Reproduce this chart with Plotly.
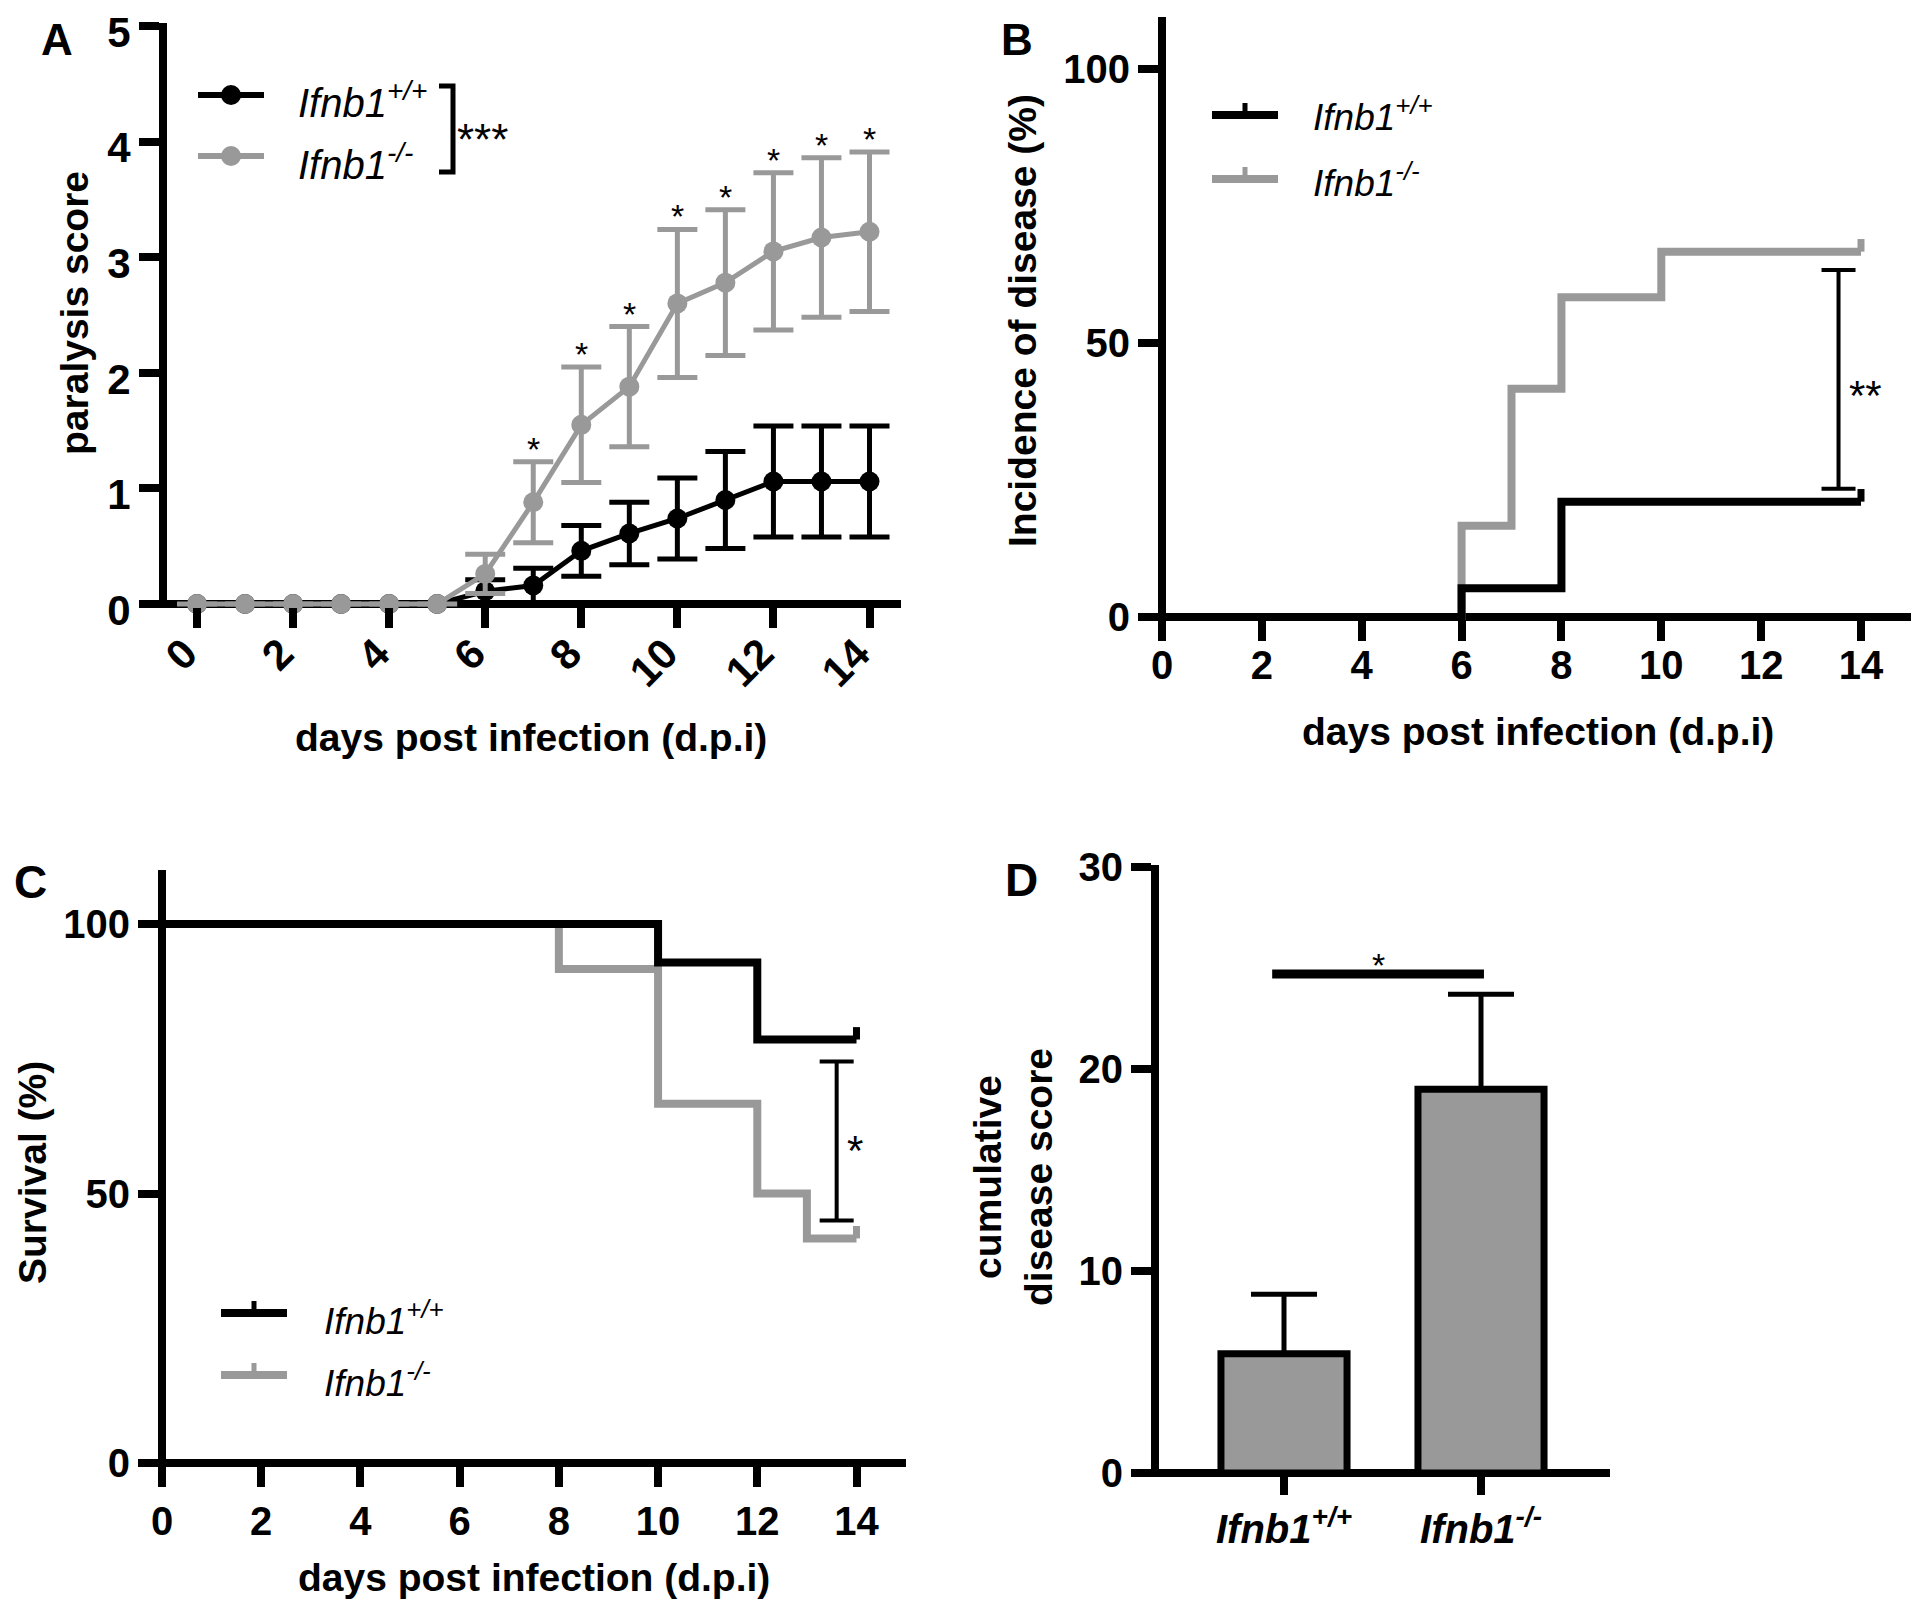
import plotly.graph_objects as go

# Target page is 1920x1612; the browser body has an 8px margin, so the figure is
# made 16px smaller and every pixel position below is given in page coordinates.
PAGE_W, PAGE_H = 1920, 1612
OFF = 8
W, H = PAGE_W - 2 * OFF, PAGE_H - 2 * OFF
FONT = "Liberation Sans, Arial, Helvetica, sans-serif"
BLACK = "#000000"
GRAY = "#999999"

# ---------------- data ----------------
# Panel A: paralysis score (mean, SEM)
days = list(range(15))
wt_score = [0, 0, 0, 0, 0, 0, 0.11, 0.16, 0.46, 0.61, 0.74, 0.90, 1.06, 1.06, 1.06]
wt_sem = [None, None, None, None, None, None, 0.10, 0.15, 0.22, 0.27, 0.35, 0.42, 0.48, 0.48, 0.48]
ko_score = [0, 0, 0, 0, 0, 0, 0.26, 0.88, 1.55, 1.88, 2.60, 2.78, 3.05, 3.17, 3.22]
ko_sem = [None, None, None, None, None, None, 0.17, 0.35, 0.50, 0.52, 0.64, 0.63, 0.68, 0.69, 0.69]
sig_days_A = [7, 8, 9, 10, 11, 12, 13, 14]

# Panel B: incidence of disease (%)
inc_wt_days = [0, 6, 8, 14]
inc_wt = [0, 5.26, 21.05, 21.05]
inc_ko_days = [0, 6, 7, 8, 10, 14]
inc_ko = [0, 16.67, 41.67, 58.33, 66.67, 66.67]
inc_sig_day = 13.55
inc_sig_range = [23.4, 63.3]

# Panel C: survival (%)
surv_wt_days = [0, 10, 12, 14]
surv_wt = [100, 92.86, 78.57, 78.57]
surv_ko_days = [0, 8, 10, 12, 13, 14]
surv_ko = [100, 91.67, 66.67, 50, 41.67, 41.67]
surv_sig_day = 13.6
surv_sig_range = [45.0, 74.5]

# Panel D: cumulative disease score
groups = ["Ifnb1<sup>+/+</sup>", "Ifnb1<sup>-/-</sup>"]
cum_score = [5.9, 19.0]
cum_sem = [2.95, 4.7]
cum_sig_y = 24.7
cum_sig_span = [-0.06, 1.015]

legend_names = ["Ifnb1<sup>+/+</sup>", "Ifnb1<sup>-/-</sup>"]

# ---------------- geometry helpers ----------------
def fx(p):
    return (p - OFF) / W


def fy(p):
    return 1 - (p - OFF) / H


def lin(p, a, b):
    (pa, va), (pb, vb) = a, b
    return va + (p - pa) * (vb - va) / (pb - pa)


PAD = 3
PANELS = {
    "A": dict(ax="", l=163, r=901, b=604, t=23, cx=((197, 0), (869.5, 14)), cy=((604, 0), (26, 5))),
    "B": dict(ax="2", l=1162, r=1911, b=617, t=17, cx=((1162, 0), (1861, 14)), cy=((617, 0), (69, 100))),
    "C": dict(ax="3", l=162, r=906, b=1463, t=870, cx=((162, 0), (856.5, 14)), cy=((1463, 0), (924, 100))),
    "D": dict(ax="4", l=1155, r=1610, b=1473, t=865, cx=((1284, 0), (1481, 1)), cy=((1473, 0), (867, 30))),
}

fig = go.Figure()
layout = dict(
    width=W, height=H, margin=dict(l=0, r=0, t=0, b=0, autoexpand=False),
    paper_bgcolor="white", plot_bgcolor="rgba(0,0,0,0)",
    showlegend=False, font=dict(family=FONT, color=BLACK),
)
shapes = []
annotations = []

axis_common = dict(showline=False, showgrid=False, zeroline=False, ticks="outside",
                   ticklen=20, tickwidth=8, tickcolor=BLACK, fixedrange=True, automargin=False,
                   ticklabeloverflow="allow")

for key, p in PANELS.items():
    dl, dr, db, dt = p["l"] - PAD, p["r"], p["b"] + PAD, p["t"]
    xr = [lin(dl, *p["cx"]), lin(dr, *p["cx"])]
    yr = [lin(db, *p["cy"]), lin(dt, *p["cy"])]
    layout["xaxis" + p["ax"]] = dict(axis_common, domain=[fx(dl), fx(dr)], range=xr,
                                     anchor="y" + p["ax"])
    layout["yaxis" + p["ax"]] = dict(axis_common, domain=[fy(db), fy(dt)], range=yr,
                                     anchor="x" + p["ax"])
    # axis lines (drawn beneath the data, as in the original)
    shapes.append(dict(type="line", xref="paper", yref="paper", layer="below",
                       x0=fx(p["l"] - 4), x1=fx(p["r"]), y0=fy(p["b"]), y1=fy(p["b"]),
                       line=dict(color=BLACK, width=8)))
    shapes.append(dict(type="line", xref="paper", yref="paper", layer="below",
                       x0=fx(p["l"]), x1=fx(p["l"]), y0=fy(p["b"] + 4), y1=fy(p["t"]),
                       line=dict(color=BLACK, width=8)))

tick_font = dict(family=FONT, size=40, color=BLACK, weight="bold")

# ---- Panel A axes ----
layout["xaxis"].update(tickmode="linear", tick0=0, dtick=2, tickangle=-45,
                       tickfont=dict(tick_font, size=42), ticklabelstandoff=-16,
                       ticklabelshift=-12)
layout["yaxis"].update(tickmode="linear", tick0=0, dtick=1, tickfont=dict(tick_font, size=42),
                       ticklabelshift=6)
# ---- Panel B axes ----
layout["xaxis2"].update(tickmode="linear", tick0=0, dtick=2, tickfont=tick_font,
                        ticklabelstandoff=-10)
layout["yaxis2"].update(tickvals=[0, 50, 100], tickfont=tick_font)
# ---- Panel C axes ----
layout["xaxis3"].update(tickmode="linear", tick0=0, dtick=2, tickfont=tick_font)
layout["yaxis3"].update(tickvals=[0, 50, 100], tickfont=tick_font)
# ---- Panel D axes ----
layout["xaxis4"].update(tickvals=[0, 1], ticktext=groups, ticklen=18,
                        tickfont=dict(tick_font, style="italic"))
layout["yaxis4"].update(tickvals=[0, 10, 20, 30], tickfont=tick_font)

# ---------------- Panel A traces ----------------
fig.add_trace(go.Scatter(
    x=days, y=wt_score, mode="lines+markers", xaxis="x", yaxis="y", cliponaxis=False,
    line=dict(color=BLACK, width=5), marker=dict(size=20, color=BLACK),
    error_y=dict(type="data", array=wt_sem, color=BLACK, thickness=5, width=20)))
fig.add_trace(go.Scatter(
    x=days, y=ko_score, mode="lines+markers", xaxis="x", yaxis="y", cliponaxis=False,
    line=dict(color=GRAY, width=5), marker=dict(size=20, color=GRAY),
    error_y=dict(type="data", array=ko_sem, color=GRAY, thickness=5, width=20)))
for d in sig_days_A:
    annotations.append(dict(x=d, y=ko_score[d] + ko_sem[d], xref="x", yref="y", text="*",
                            showarrow=False, yanchor="bottom", yshift=-8,
                            font=dict(family=FONT, size=34, color=BLACK)))

# ---------------- Panel B traces ----------------
for xs, ys, col in [(inc_ko_days, inc_ko, GRAY), (inc_wt_days, inc_wt, BLACK)]:
    fig.add_trace(go.Scatter(x=xs, y=ys, mode="lines", line_shape="hv", xaxis="x2", yaxis="y2",
                             line=dict(color=col, width=8)))
    fig.add_trace(go.Scatter(x=xs[-1:], y=ys[-1:], mode="markers", xaxis="x2", yaxis="y2",
                             marker=dict(size=1, opacity=0), cliponaxis=False,
                             error_y=dict(type="data", symmetric=False, array=[2.3], arrayminus=[0],
                                          width=0, thickness=7, color=col)))
fig.add_trace(go.Scatter(
    x=[inc_sig_day], y=[sum(inc_sig_range) / 2], mode="markers", xaxis="x2", yaxis="y2",
    marker=dict(size=1, opacity=0),
    error_y=dict(type="data", array=[(inc_sig_range[1] - inc_sig_range[0]) / 2],
                 color=BLACK, thickness=4, width=17)))
annotations.append(dict(x=inc_sig_day, y=sum(inc_sig_range) / 2, xref="x2", yref="y2", text="**",
                        showarrow=False, xanchor="left", xshift=8, yshift=-16,
                        font=dict(family=FONT, size=42, color=BLACK)))

# ---------------- Panel C traces ----------------
for xs, ys, col in [(surv_ko_days, surv_ko, GRAY), (surv_wt_days, surv_wt, BLACK)]:
    fig.add_trace(go.Scatter(x=xs, y=ys, mode="lines", line_shape="hv", xaxis="x3", yaxis="y3",
                             line=dict(color=col, width=8)))
    fig.add_trace(go.Scatter(x=xs[-1:], y=ys[-1:], mode="markers", xaxis="x3", yaxis="y3",
                             marker=dict(size=1, opacity=0), cliponaxis=False,
                             error_y=dict(type="data", symmetric=False, array=[2.3], arrayminus=[0],
                                          width=0, thickness=7, color=col)))
fig.add_trace(go.Scatter(
    x=[surv_sig_day], y=[sum(surv_sig_range) / 2], mode="markers", xaxis="x3", yaxis="y3",
    marker=dict(size=1, opacity=0),
    error_y=dict(type="data", array=[(surv_sig_range[1] - surv_sig_range[0]) / 2],
                 color=BLACK, thickness=4, width=17)))
annotations.append(dict(x=surv_sig_day, y=sum(surv_sig_range) / 2, xref="x3", yref="y3", text="*",
                        showarrow=False, xanchor="left", xshift=8, yshift=-10,
                        font=dict(family=FONT, size=42, color=BLACK)))

# ---------------- Panel D traces ----------------
fig.add_trace(go.Bar(
    x=[0, 1], y=cum_score, width=0.64, xaxis="x4", yaxis="y4",
    marker=dict(color=GRAY, line=dict(color=BLACK, width=7)),
    error_y=dict(type="data", symmetric=False, array=cum_sem, arrayminus=[0, 0],
                 color=BLACK, thickness=5, width=33)))
fig.add_trace(go.Scatter(x=cum_sig_span, y=[cum_sig_y, cum_sig_y], mode="lines",
                         xaxis="x4", yaxis="y4", line=dict(color=BLACK, width=9)))
annotations.append(dict(x=sum(cum_sig_span) / 2, y=cum_sig_y, xref="x4", yref="y4", text="*",
                        showarrow=False, yanchor="bottom", yshift=-12,
                        font=dict(family=FONT, size=34, color=BLACK)))

# ---------------- legends (drawn as keys + text) ----------------
def hline(x0, x1, y, col, w):
    shapes.append(dict(type="line", xref="paper", yref="paper", x0=fx(x0), x1=fx(x1),
                       y0=fy(y), y1=fy(y), line=dict(color=col, width=w)))


def vline(x, y0, y1, col, w):
    shapes.append(dict(type="line", xref="paper", yref="paper", x0=fx(x), x1=fx(x),
                       y0=fy(y0), y1=fy(y1), line=dict(color=col, width=w)))


def text(x, y, s, size, xanchor="center", weight="normal", style="normal", angle=0):
    annotations.append(dict(x=fx(x), y=fy(y), xref="paper", yref="paper", text=s,
                            showarrow=False, xanchor=xanchor, yanchor="middle", textangle=angle,
                            font=dict(family=FONT, size=size, color=BLACK, weight=weight,
                                      style=style)))


# Panel A legend (line + marker keys)
for y, col, name, ty in [(95, BLACK, legend_names[0], 100), (156, GRAY, legend_names[1], 162)]:
    hline(198, 264, y, col, 6)
    shapes.append(dict(type="circle", xref="paper", yref="paper", x0=fx(221), x1=fx(241),
                       y0=fy(y - 10), y1=fy(y + 10), fillcolor=col, line=dict(width=0)))
    text(296, ty, name, 40, xanchor="left", style="italic")
shapes.append(dict(type="path", xref="paper", yref="paper",
                   path=f"M {fx(439)} {fy(86)} L {fx(453)} {fy(86)} L {fx(453)} {fy(172)} L {fx(439)} {fy(172)}",
                   line=dict(color=BLACK, width=5)))
text(455, 140, "***", 44, xanchor="left")

# Panel B legend (KM keys with censor tick)
for y, col, name, ty in [(115, BLACK, legend_names[0], 115), (179, GRAY, legend_names[1], 180)]:
    hline(1212, 1278, y, col, 8)
    vline(1245, y, y - 12, col, 5)
    text(1311, ty, name, 37, xanchor="left", style="italic")

# Panel C legend
for y, col, name, ty in [(1313, BLACK, legend_names[0], 1318), (1375, GRAY, legend_names[1], 1380)]:
    hline(221, 287, y, col, 8)
    vline(254, y, y - 12, col, 5)
    text(322, ty, name, 37, xanchor="left", style="italic")

# ---------------- titles & panel letters ----------------
text(531, 737, "days post infection (d.p.i)", 39, weight="bold")
text(1538, 732, "days post infection (d.p.i)", 39, weight="bold")
text(534, 1577, "days post infection (d.p.i)", 39, weight="bold")
text(75, 313, "paralysis score", 39, weight="bold", angle=-90)
text(1023, 321, "Incidence of disease (%)", 39, weight="bold", angle=-90)
text(32, 1173, "Survival (%)", 39, weight="bold", angle=-90)
text(1013, 1177, "cumulative<br>disease score", 39, weight="bold", angle=-90)

text(57, 39, "A", 44, weight="bold")
text(1017, 39, "B", 44, weight="bold")
text(30, 882, "C", 46, weight="bold")
text(1021, 880, "D", 46, weight="bold")

layout["shapes"] = shapes
layout["annotations"] = annotations
fig.update_layout(**layout)
fig.write_html("out.html")
